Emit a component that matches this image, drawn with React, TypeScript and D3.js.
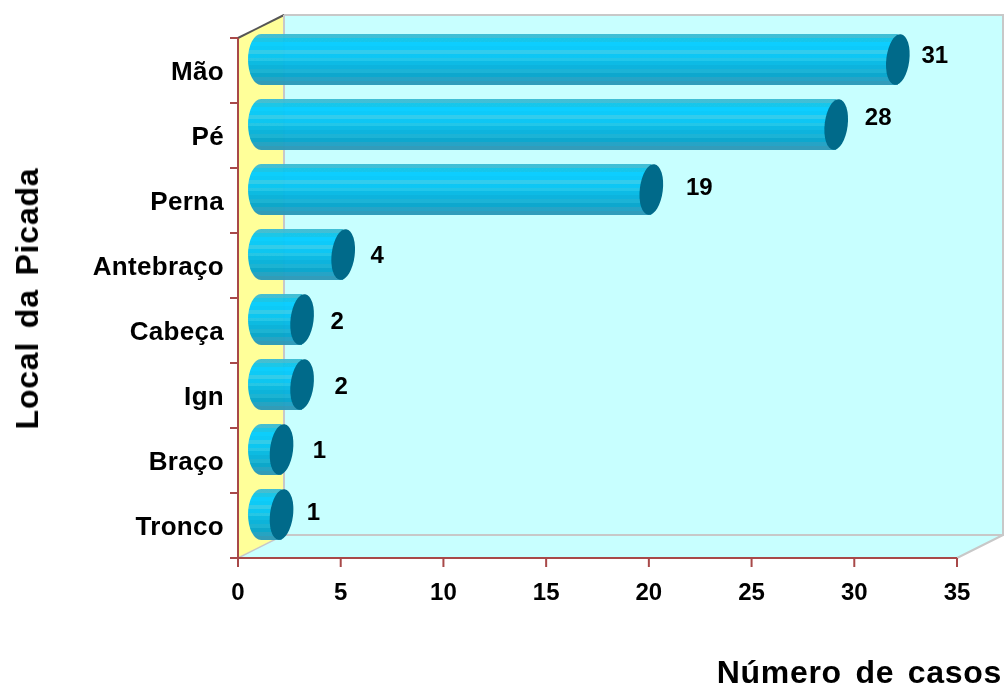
import { FC } from 'react'
import * as d3 from 'd3'

const categories = ['Mão', 'Pé', 'Perna', 'Antebraço', 'Cabeça', 'Ign', 'Braço', 'Tronco']
const cases = [31, 28, 19, 4, 2, 2, 1, 1]
const xTicks = [0, 5, 10, 15, 20, 25, 30, 35]
// the value labels sit by hand in the original, not at a fixed distance from the bars
const labelDx = [37, 42, 48, 34, 35, 39, 38, 32]
const labelDy = [-1, -4, 1, 4, 5, 5, 4, 1]

const width = 1004
const height = 687
const margin = { top: 38, right: 47, bottom: 129, left: 238 }
const depthX = 46
const depthY = 23

const font = '"Liberation Sans", Arial, sans-serif'
// stepped shading of the cylinder side, top to bottom
const stripes = ['#3cbcd4', '#12c4ea', '#00ccff', '#00c8fa', '#2acaec', '#00c4f4', '#1cc4e8', '#00b8e4', '#00b0dc', '#14b0d4', '#00a4cc', '#1fa0c4', '#2a98b8']

const App: FC = () => {
  const x = d3.scaleLinear().domain([0, 35]).range([margin.left, width - margin.right])
  const y = d3.scaleBand<string>().domain(categories).range([margin.top, height - margin.bottom])
  const x0 = x(0)
  const y0 = height - margin.bottom
  const x1 = x(35)
  const yTop = margin.top
  const ticks = categories.map(c => y(c) as number).concat(y0)
  const barHeight = y.bandwidth() * 0.785
  const rx = 11.5
  const ry = barHeight / 2
  const axisColor = '#a84848'
  const wallLine = '#c8c8c8'

  return (
    <svg width={width} height={height} style={{ position: 'absolute', left: 0, top: 0 }} fontFamily={font}>
      <defs>
        <linearGradient id="side" x1="0" y1="0" x2="0" y2="1">
          {stripes.flatMap((c, i) => [
            <stop key={i + 'a'} offset={i / stripes.length} stopColor={c} />,
            <stop key={i + 'b'} offset={(i + 1) / stripes.length} stopColor={c} />
          ])}
        </linearGradient>
        <filter id="soft" filterUnits="userSpaceOnUse" x={0} y={0} width={width} height={height}>
          <feGaussianBlur stdDeviation="0.6" />
        </filter>
        <filter id="softText" filterUnits="userSpaceOnUse" x={0} y={0} width={width} height={height}>
          <feGaussianBlur stdDeviation="0.4" />
        </filter>
      </defs>

      <g filter="url(#soft)">
        {/* floor */}
        <polygon
          points={`${x0},${y0} ${x0 + depthX},${y0 - depthY} ${x1 + depthX},${y0 - depthY} ${x1},${y0}`}
          fill="#c8ffff"
        />
        {/* back wall */}
        <rect
          x={x0 + depthX}
          y={yTop - depthY}
          width={x1 - x0}
          height={y0 - yTop}
          fill="#c8ffff"
          stroke={wallLine}
          strokeWidth={2}
        />
        <line x1={x1} y1={y0} x2={x1 + depthX} y2={y0 - depthY} stroke={wallLine} strokeWidth={2} />
        {/* left wall */}
        <polygon
          points={`${x0},${yTop} ${x0 + depthX},${yTop - depthY} ${x0 + depthX},${y0 - depthY} ${x0},${y0}`}
          fill="#ffff99"
        />
        <line x1={x0} y1={y0} x2={x0 + depthX} y2={y0 - depthY} stroke={wallLine} strokeWidth={1.5} />
        <line x1={x0} y1={yTop} x2={x0 + depthX} y2={yTop - depthY} stroke="#555" strokeWidth={2} />
        <line x1={x0 + depthX} y1={yTop - depthY} x2={x0 + depthX} y2={y0 - depthY} stroke={wallLine} strokeWidth={2} />

        {/* bars */}
        {categories.map((c, i) => {
          const cy = (y(c) as number) + y.bandwidth() / 2 - depthY / 2 + 0.5
          const left = x0 + depthX / 2
          const right = x(cases[i]) + depthX / 2
          return (
            <g key={c}>
              <path
                d={`M${left},${cy - ry} L${right},${cy - ry} L${right},${cy + ry} L${left},${cy + ry} A${rx + 1.5},${ry} 0 0 1 ${left},${cy - ry} Z`}
                fill="url(#side)"
                fillOpacity={0.96}
              />
              <ellipse
                cx={right}
                cy={cy}
                rx={rx}
                ry={ry}
                fill="#006a8a"
                transform={`rotate(7 ${right} ${cy})`}
              />
            </g>
          )
        })}

        {/* axes */}
        <line x1={x0} y1={yTop} x2={x0} y2={y0 + 9} stroke={axisColor} strokeWidth={2} />
        <line x1={x0 - 8} y1={y0} x2={x1} y2={y0} stroke={axisColor} strokeWidth={2} />
        {ticks.map(t => (
          <line key={t} x1={x0 - 8} y1={t} x2={x0} y2={t} stroke={axisColor} strokeWidth={2} />
        ))}
        {xTicks.map(t => (
          <line key={t} x1={x(t)} y1={y0} x2={x(t)} y2={y0 + 9} stroke={axisColor} strokeWidth={2} />
        ))}
      </g>

      <g filter="url(#softText)" fontWeight="bold" fill="#000">
        {/* value labels */}
        {categories.map((c, i) => (
          <text
            key={c}
            x={x(cases[i]) + depthX / 2 + labelDx[i]}
            y={(y(c) as number) + y.bandwidth() / 2 + labelDy[i] - 7}
            textAnchor="middle"
            fontSize={24}
          >
            {cases[i]}
          </text>
        ))}

        {/* category labels */}
        {categories.map(c => (
          <text
            key={c}
            x={224}
            y={(y(c) as number) + y.bandwidth() / 2 + 9}
            textAnchor="end"
            fontSize={26}
            letterSpacing={0.3}
          >
            {c}
          </text>
        ))}

        {xTicks.map(t => (
          <text key={t} x={x(t)} y={600} textAnchor="middle" fontSize={24}>
            {t}
          </text>
        ))}

        <text x={1002} y={683} textAnchor="end" fontSize={32} letterSpacing={0.7} wordSpacing={4}>
          Número de casos
        </text>
        <text
          transform="translate(38,298.5) rotate(-90)"
          textAnchor="middle"
          fontSize={32}
          letterSpacing={0.8}
          wordSpacing={4}
        >
          Local da Picada
        </text>
      </g>
    </svg>
  )
}

export default App
